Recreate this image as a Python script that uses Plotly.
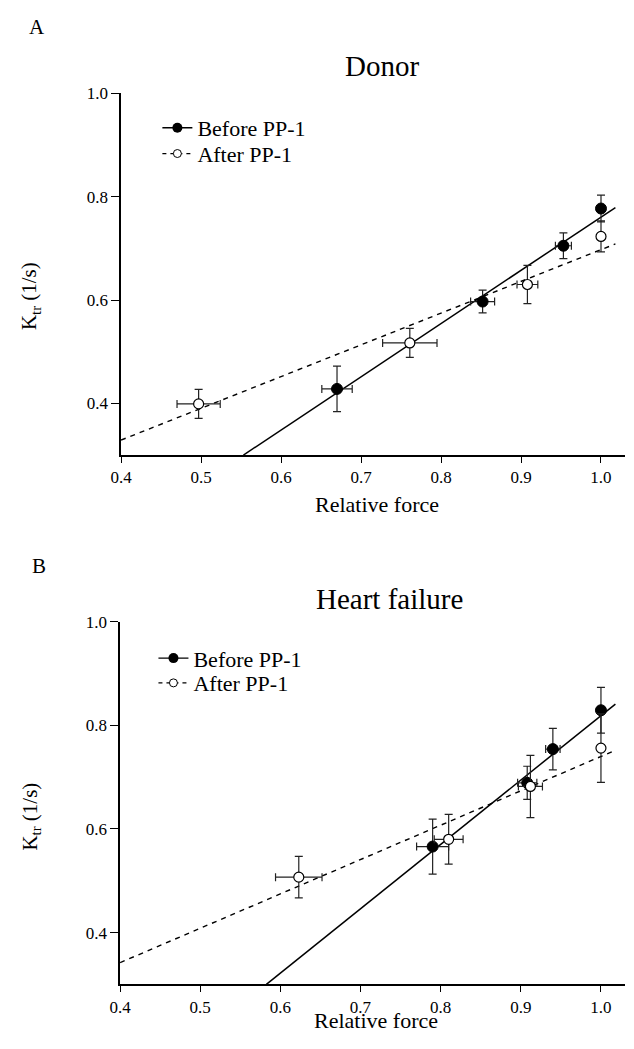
import plotly.graph_objects as go
import numpy as np

# Figure kept slightly smaller than the 634x1049 window so the page never
# overflows (which would make the screenshot rescale); positions are window px.
W, H = 625, 1033
SERIF = "Liberation Serif"

# ---------------- Panel A: Donor ----------------
a_before_x = [0.670, 0.852, 0.953, 1.000]
a_before_y = [0.428, 0.597, 0.705, 0.777]
a_before_xerr = [0.019, 0.015, 0.010, 0.0]
a_before_yerr = [0.044, 0.022, 0.025, 0.026]

a_after_x = [0.497, 0.761, 0.908, 1.000]
a_after_y = [0.399, 0.517, 0.630, 0.723]
a_after_xerr = [0.027, 0.034, 0.013, 0.0]
a_after_yerr = [0.028, 0.028, 0.037, 0.030]

# linear fits (slope, intercept)
a_fit_before = (1.03, -0.2696)
a_fit_after = (0.614, 0.0834)

# ---------------- Panel B: Heart failure ----------------
b_before_x = [0.790, 0.908, 0.940, 1.000]
b_before_y = [0.566, 0.689, 0.754, 0.829]
b_before_xerr = [0.020, 0.012, 0.009, 0.0]
b_before_yerr = [0.053, 0.032, 0.040, 0.044]

b_after_x = [0.623, 0.810, 0.912, 1.000]
b_after_y = [0.507, 0.580, 0.682, 0.756]
b_after_xerr = [0.029, 0.018, 0.015, 0.0]
b_after_yerr = [0.040, 0.048, 0.060, 0.066]

b_fit_before = (1.242, -0.4235)
b_fit_after = (0.663, 0.0768)

x_ticks = [0.4, 0.5, 0.6, 0.7, 0.8, 0.9, 1.0]
x_ticktext = ["0.4", "0.5", "0.6", "0.7", "0.8", "0.9", "1.0"]
y_ticks = [0.4, 0.6, 0.8, 1.0]
y_ticktext = ["0.4", "0.6", "0.8", "1.0"]

a_xrange = [0.4, 1.03]
b_xrange = [0.4, 1.03]
y_range = [0.3, 1.0]

series_names = ["Before PP-1", "After PP-1"]
panel_titles = ["Donor", "Heart failure"]
panel_letters = ["A", "B"]

fig = go.Figure()


def fit_line(fit, xr, ymin):
    m, c = fit
    x0 = max(xr[0], (ymin - c) / m)
    xs = np.array([x0, xr[1] - 0.012])
    return xs, m * xs + c


def add_panel(xa, ya, legends, xr, bx, by, bxe, bye, ax_, ay_, axe, aye, fb, fa):
    xs, ys = fit_line(fb, xr, y_range[0])
    fig.add_trace(go.Scatter(x=xs, y=ys, mode="lines", xaxis=xa, yaxis=ya,
                             line=dict(color="black", width=1.5),
                             showlegend=False, hoverinfo="skip"))
    xs, ys = fit_line(fa, xr, y_range[0])
    fig.add_trace(go.Scatter(x=xs, y=ys, mode="lines", xaxis=xa, yaxis=ya,
                             line=dict(color="black", width=1.4, dash="5px,5px"),
                             showlegend=False, hoverinfo="skip"))
    err = dict(color="#222", thickness=1.2, width=4)
    fig.add_trace(go.Scatter(
        x=bx, y=by, mode="markers", xaxis=xa, yaxis=ya, showlegend=False,
        marker=dict(symbol="circle", size=11, color="black",
                    line=dict(color="black", width=1)),
        error_x=dict(type="data", array=bxe, visible=True, **err),
        error_y=dict(type="data", array=bye, visible=True, **err)))
    fig.add_trace(go.Scatter(
        x=ax_, y=ay_, mode="markers", xaxis=xa, yaxis=ya, showlegend=False,
        marker=dict(symbol="circle", size=10, color="white",
                    line=dict(color="black", width=1.2)),
        error_x=dict(type="data", array=axe, visible=True, **err),
        error_y=dict(type="data", array=aye, visible=True, **err)))
    fig.add_trace(go.Scatter(
        x=[None], y=[None], mode="lines+markers", name=series_names[0],
        xaxis=xa, yaxis=ya, legend=legends[0],
        line=dict(color="black", width=1.3),
        marker=dict(symbol="circle", size=10, color="black")))
    fig.add_trace(go.Scatter(
        x=[None], y=[None], mode="lines+markers", name=series_names[1],
        xaxis=xa, yaxis=ya, legend=legends[1],
        line=dict(color="black", width=1.2, dash="4px,4px"),
        marker=dict(symbol="circle", size=8, color="white",
                    line=dict(color="black", width=1))))


add_panel("x", "y", ["legend", "legend2"], a_xrange, a_before_x, a_before_y,
          a_before_xerr, a_before_yerr, a_after_x, a_after_y, a_after_xerr,
          a_after_yerr, a_fit_before, a_fit_after)
add_panel("x2", "y2", ["legend3", "legend4"], b_xrange, b_before_x, b_before_y,
          b_before_xerr, b_before_yerr, b_after_x, b_after_y, b_after_xerr,
          b_after_yerr, b_fit_before, b_fit_after)


def px_x(p):
    return min(1.0, max(0.0, p / W))


def px_y(p):
    return min(1.0, max(0.0, 1 - p / H))


xaxis_common = dict(
    tickmode="array", tickvals=x_ticks, ticktext=x_ticktext,
    showline=True, linecolor="black", linewidth=1.5,
    ticks="outside", ticklen=6, tickwidth=1.2, tickcolor="black",
    showgrid=False, zeroline=False,
    tickfont=dict(family=SERIF, size=17, color="black"),
)
yaxis_common = dict(
    tickmode="array", tickvals=y_ticks, ticktext=y_ticktext, range=y_range,
    showline=True, linecolor="black", linewidth=1.5,
    ticks="outside", ticklen=8, tickwidth=1.2, tickcolor="black",
    showgrid=False, zeroline=False,
    tickfont=dict(family=SERIF, size=17, color="black"),
)


def leg(xp, yp):
    return dict(x=px_x(xp), y=px_y(yp), xanchor="left", yanchor="middle",
                bgcolor="rgba(0,0,0,0)", borderwidth=0,
                font=dict(family=SERIF, size=22, color="black"))


fig.update_layout(
    width=W, height=H, autosize=False,
    margin=dict(l=0, r=0, t=0, b=0),
    paper_bgcolor="white", plot_bgcolor="white",
    xaxis=dict(domain=[px_x(112), 1.0], range=a_xrange, anchor="y",
               **xaxis_common),
    yaxis=dict(domain=[px_y(450), px_y(85)], anchor="x", **yaxis_common),
    xaxis2=dict(domain=[px_x(111), 1.0], range=b_xrange, anchor="y2",
                **xaxis_common),
    yaxis2=dict(domain=[px_y(984), px_y(618)], anchor="x2", **yaxis_common),
    legend=leg(149, 120),
    legend2=leg(149, 146),
    legend3=leg(145, 655),
    legend4=leg(145, 680),
    showlegend=True,
)

annots = [
    dict(text=panel_letters[0], x=px_x(26), y=px_y(18), size=21),
    dict(text=panel_letters[1], x=px_x(28), y=px_y(562), size=21),
    dict(text=panel_titles[0], x=px_x(378), y=px_y(57), size=29),
    dict(text=panel_titles[1], x=px_x(385), y=px_y(595), size=29),
    dict(text="Relative force", x=px_x(373), y=px_y(500), size=22),
    dict(text="Relative force", x=px_x(372), y=px_y(1020), size=22),
]
for a in annots:
    fig.add_annotation(text=a["text"], x=a["x"], y=a["y"], xref="paper",
                       yref="paper", xanchor="center", yanchor="middle",
                       showarrow=False,
                       font=dict(family=SERIF, size=a["size"], color="black"))
for yc in [290, 815]:
    fig.add_annotation(text="K<sub>tr</sub> (1/s)", x=px_x(20), y=px_y(yc),
                       xref="paper", yref="paper", xanchor="center",
                       yanchor="middle", textangle=-90, showarrow=False,
                       font=dict(family=SERIF, size=21, color="black"))

fig.write_html("out.html")
